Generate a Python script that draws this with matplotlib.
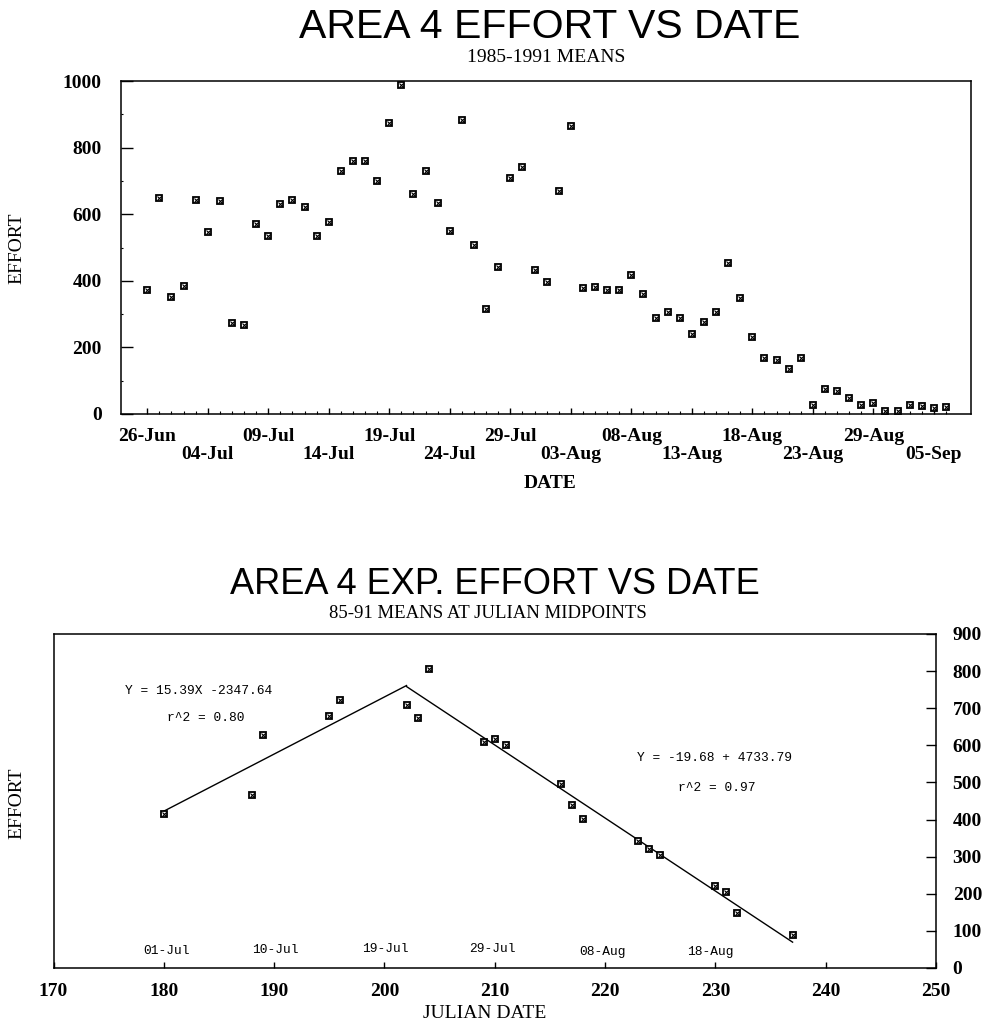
import matplotlib
matplotlib.use("Agg")
import matplotlib.pyplot as plt
from matplotlib.ticker import FixedLocator, MultipleLocator

# ---- data: daily mean effort (1985-1991) ----
effort = [371, 650, 351, 384, 642, 548, 640, 273, 267, 572,
          535, 630, 643, 622, 534, 577, 731, 761, 759, 699,
          874, 988, 662, 731, 633, 550, 883, 508, 316, 442,
          710, 741, 431, 396, 669, 866, 378, 380, 372, 371,
          418, 359, 289, 307, 289, 239, 276, 307, 453, 348,
          230, 169, 162, 135, 169, 28, 75, 69, 47, 27,
          32, 8, 8, 28, 24, 18, 22]
date_labels = ['26-Jun', '04-Jul', '09-Jul', '14-Jul', '19-Jul', '24-Jul',
               '29-Jul', '03-Aug', '08-Aug', '13-Aug', '18-Aug', '23-Aug',
               '29-Aug', '05-Sep']
label_step = 5

# ---- data: expanded effort at julian midpoints ----
julian = [180, 188, 189, 195, 196, 202, 203, 204, 209, 210, 211,
          216, 217, 218, 223, 224, 225, 230, 231, 232, 237]
exp_effort = [415, 467, 628, 680, 723, 710, 675, 806, 609, 616, 602,
              495, 440, 402, 342, 320, 305, 220, 204, 148, 88]

# regression fits (rising and falling limbs)
fit1_slope, fit1_icpt, fit1_r2 = 15.39, -2347.64, 0.80
fit1_range = [180, 202]
fit2_slope, fit2_icpt, fit2_r2 = -19.68, 4733.79, 0.97
fit2_range = [202, 237]

# calendar reference labels along the julian axis
cal_labels = ['01-Jul', '10-Jul', '19-Jul', '29-Jul', '08-Aug', '18-Aug']
cal_julian = [180.2, 190.1, 200.1, 209.8, 219.8, 229.5]
cal_height = [46, 49, 52, 52, 44, 44]

W, H = 985, 1024
fig = plt.figure(figsize=(W / 100, H / 100), dpi=100)


def fx(px):
    return px / W


def fy(py):
    return 1 - py / H


SERIF = 'Liberation Serif'
SANS = 'Liberation Sans'
MONO = 'Liberation Mono'
TICK_FS = 14


def draw_points(ax, x, y):
    ax.plot(x, y, ls='none', marker='s', ms=4.3, mfc='white', mec='black',
            mew=1.3, zorder=3)
    ax.plot(x, y, ls='none', marker='x', ms=2.2, mec='black', mew=0.8,
            zorder=4)


# ================= upper panel =================
ax1 = fig.add_axes([fx(121), fy(414), fx(971) - fx(121), fy(81) - fy(414)])
idx = list(range(len(effort)))
draw_points(ax1, idx, effort)
ax1.set_xlim(-2.17, len(effort) + 1.07)
ax1.set_ylim(0, 1000)
ax1.yaxis.set_major_locator(MultipleLocator(200))
ax1.yaxis.set_minor_locator(MultipleLocator(100))
major_pos = list(range(0, len(effort), label_step))
ax1.xaxis.set_major_locator(FixedLocator(major_pos))
ax1.xaxis.set_minor_locator(FixedLocator(idx))
ax1.set_xticklabels([lab if i % 2 == 0 else '\n' + lab
                     for i, lab in enumerate(date_labels)],
                    fontfamily=SERIF, fontweight='bold', fontsize=TICK_FS,
                    linespacing=1.1)
for lab in ax1.get_yticklabels():
    lab.set_fontfamily(SERIF)
    lab.set_fontweight('bold')
    lab.set_fontsize(TICK_FS)
ax1.tick_params(axis='y', which='major', direction='in', length=8.5,
                width=1.0, pad=14)
ax1.tick_params(axis='y', which='minor', direction='in', length=1.5,
                width=0.8)
ax1.tick_params(axis='x', which='major', direction='in', length=4,
                width=1.0, pad=10)
ax1.tick_params(axis='x', which='minor', direction='in', length=2,
                width=0.8)
for s in ax1.spines.values():
    s.set_linewidth(1.1)

fig.text(fx(550), fy(27), 'AREA 4 EFFORT VS DATE', family=SANS,
         fontsize=29.5, ha='center', va='center')
fig.text(fx(546), fy(58), '1985-1991 MEANS', family=SERIF,
         fontsize=14, ha='center', va='center')
fig.text(fx(550), fy(483), 'DATE', family=SERIF, fontweight='bold',
         fontsize=TICK_FS, ha='center', va='center')
fig.text(fx(17), fy(248), 'EFFORT', family=SERIF, fontsize=14,
         rotation=90, ha='center', va='center')

# ================= lower panel =================
ax2 = fig.add_axes([fx(53.5), fy(968), fx(936) - fx(53.5), fy(634) - fy(968)])
draw_points(ax2, julian, exp_effort)
for (x0, x1), m, b in ((fit1_range, fit1_slope, fit1_icpt),
                       (fit2_range, fit2_slope, fit2_icpt)):
    ax2.plot([x0, x1], [m * x0 + b, m * x1 + b], color='black', lw=1.0,
             zorder=2)
ax2.set_xlim(170, 250)
ax2.set_ylim(0, 900)
ax2.xaxis.set_major_locator(MultipleLocator(10))
ax2.yaxis.set_major_locator(MultipleLocator(100))
ax2.yaxis.tick_right()
ax2.tick_params(axis='y', which='major', direction='in', length=7,
                width=1.0, pad=12, right=True, left=False)
ax2.tick_params(axis='x', which='major', direction='in', length=4,
                width=1.0, pad=11)
for lab in ax2.get_xticklabels() + ax2.get_yticklabels():
    lab.set_fontfamily(SERIF)
    lab.set_fontweight('bold')
    lab.set_fontsize(TICK_FS)
for s in ax2.spines.values():
    s.set_linewidth(1.1)

MONO_FS = 9.3
ax2.text(176.5, 746, f'Y = {fit1_slope:.2f}X {fit1_icpt:.2f}', family=MONO,
         fontsize=MONO_FS, ha='left', va='center')
ax2.text(180.3, 674, f'r^2 = {fit1_r2:.2f}', family=MONO, fontsize=MONO_FS,
         ha='left', va='center')
ax2.text(222.9, 566, f'Y = {fit2_slope:.2f} + {fit2_icpt:.2f}', family=MONO,
         fontsize=MONO_FS, ha='left', va='center')
ax2.text(226.6, 485, f'r^2 = {fit2_r2:.2f}', family=MONO, fontsize=MONO_FS,
         ha='left', va='center')
for lab, xj, yh in zip(cal_labels, cal_julian, cal_height):
    ax2.text(xj, yh, lab, family=MONO, fontsize=MONO_FS, ha='center',
             va='center')

fig.text(fx(495), fy(584), 'AREA 4 EXP. EFFORT VS DATE', family=SANS,
         fontsize=26, ha='center', va='center')
fig.text(fx(488), fy(613), '85-91 MEANS AT JULIAN MIDPOINTS', family=SERIF,
         fontsize=13.5, ha='center', va='center')
fig.text(fx(485), fy(1013), 'JULIAN DATE', family=SERIF, fontsize=14,
         ha='center', va='center')
fig.text(fx(17), fy(803), 'EFFORT', family=SERIF, fontsize=14,
         rotation=90, ha='center', va='center')

fig.savefig('out.png', dpi=100, facecolor='white')
